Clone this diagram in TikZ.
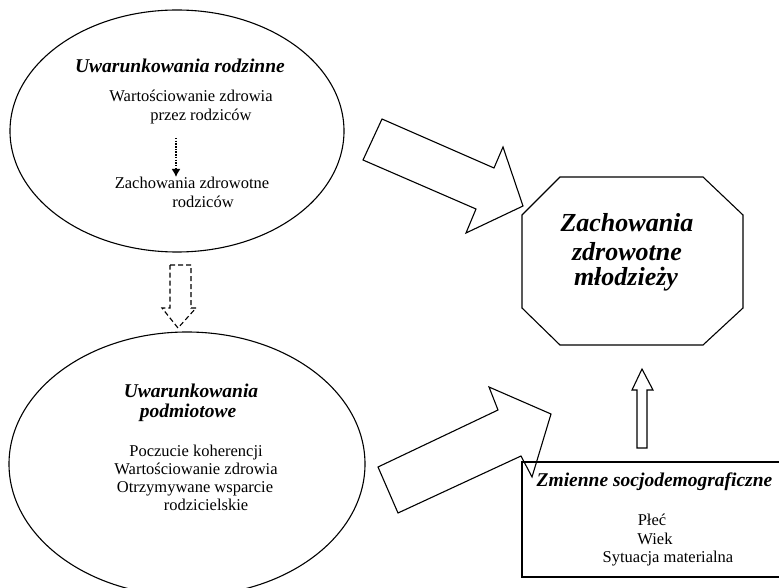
\documentclass[tikz,border=0pt]{standalone}
\usepackage{fontspec}
\setmainfont{Liberation Serif}
\usetikzlibrary{arrows.meta}

\begin{document}
\begin{tikzpicture}[x=1pt,y=-1pt,line width=1.1pt,
    head/.style={anchor=base,inner sep=0pt,font=\fontsize{19.5}{22}\selectfont\bfseries\itshape},
    txt/.style={anchor=base,inner sep=0pt,font=\fontsize{16.5}{19}\selectfont},
    big/.style={anchor=base,inner sep=0pt,font=\fontsize{26}{28}\selectfont\bfseries\itshape},
    blk/.style={draw,fill=white,line join=miter}]
      \useasboundingbox (0,0) rectangle (779,588);
      \clip (0,0) rectangle (779,588);

      % ellipses
      \draw (177,131) ellipse [x radius=167, y radius=121];
      \draw (187,464) ellipse [x radius=178, y radius=132];

      \node[head] (r0) at (180,73)    {Uwarunkowania rodzinne};
      \node[txt]  (r1) at (191,102)   {Wartościowanie zdrowia};
      \node[txt]  (r2) at (201,120.5) {przez rodziców};
      \node[txt]  (r3) at (192,189)   {Zachowania zdrowotne};
      \node[txt]  (r4) at (203,208)   {rodziców};

      \coordinate (d1) at (176,138);
      \coordinate (d2) at (176,177);
      \draw[line width=1.5pt,dash pattern=on 1.5pt off 1.2pt,
        -{Latex[length=8pt,width=9pt]}] (d1) -- (d2);

      \node[head] (p0) at (191,397)   {Uwarunkowania};
      \node[head] (p1) at (188,417)   {podmiotowe};
      \node[txt]  (p2) at (196,456)   {Poczucie koherencji};
      \node[txt]  (p3) at (196,474.3) {Wartościowanie zdrowia};
      \node[txt]  (p4) at (195,492.3) {Otrzymywane wsparcie};
      \node[txt]  (p5) at (206,510.7) {rodzicielskie};

      % octagon
      \draw[line join=miter] (560,177) -- (703,177) -- (743,215) -- (743,308)
        -- (703,345) -- (560,345) -- (522,308) -- (522,215) -- cycle;
      \node[big] (z0) at (627,232) {Zachowania};
      \node[big] (z1) at (627,260) {zdrowotne};
      \node[big] (z2) at (626,285) {młodzieży};

      % block arrows
      \draw[blk] (382,119) -- (494,168) -- (503,147) -- (523,206)
        -- (466,233) -- (476,209) -- (363,160) -- cycle;
      \draw[blk] (378,467) -- (498,410) -- (489,387) -- (551,414)
        -- (532,477) -- (521,456) -- (398,513) -- cycle;
      \draw[blk] (637,448) -- (647,448) -- (647,390) -- (653,390)
        -- (642,369) -- (632,390) -- (637,390) -- cycle;
      \draw[blk,dash pattern=on 5pt off 3pt] (170,265) -- (191,265) -- (191,308)
        -- (196,308) -- (178,328) -- (162,308) -- (170,308) -- cycle;

      % box
      \draw (522,462) rectangle (800,577);
      \node[head] (s0) at (654.5,486.7) {Zmienne socjodemograficzne};
      \node[txt]  (s1) at (652,525)     {Płeć};
      \node[txt]  (s2) at (655,544)     {Wiek};
      \node[txt]  (s3) at (668,562.7)   {Sytuacja materialna};
    \end{tikzpicture}
\end{document}
